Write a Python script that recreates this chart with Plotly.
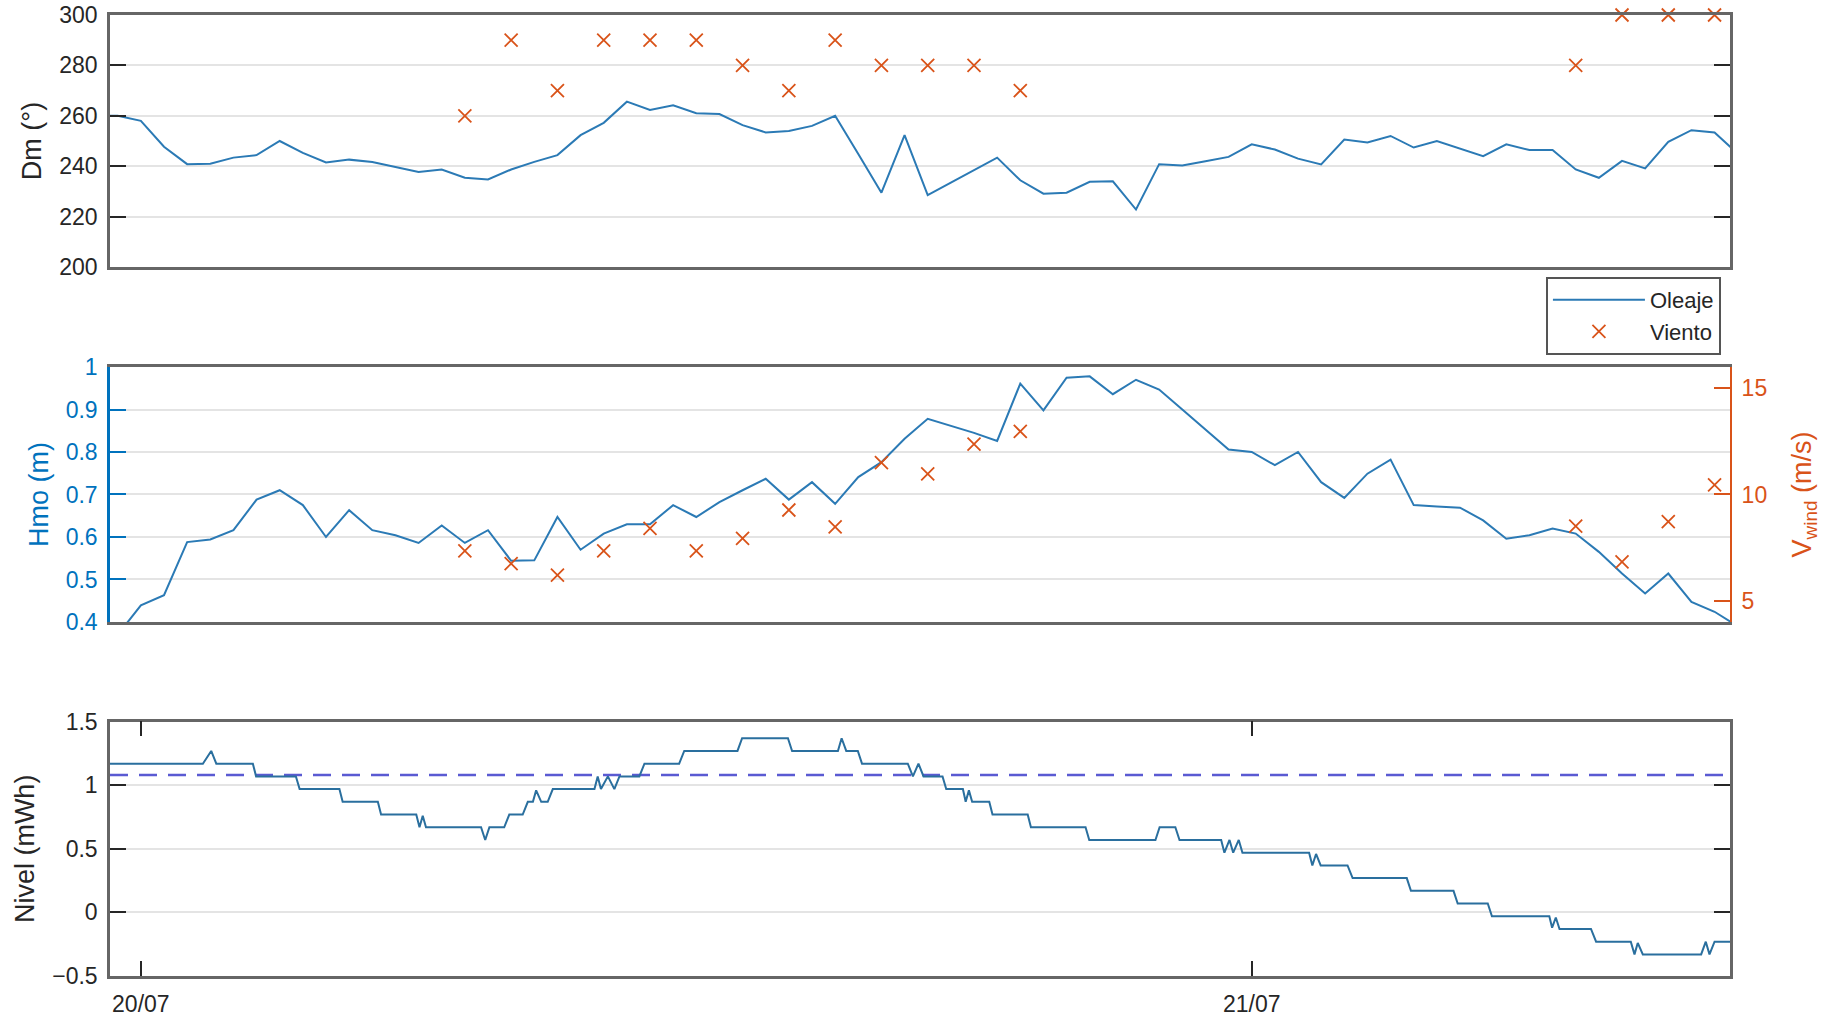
import pandas as pd
import plotly.graph_objects as go

# ---------------- data ----------------
base = pd.Timestamp("2018-07-20 00:00")

# wave record (half-hourly, starting 19/07 23:00)
wave_start = "2018-07-19 23:00"
dm_oleaje = [260, 260, 258, 247.7, 240.8, 241, 243.4, 244.4, 250, 245.3, 241.5, 242.6,
             241.7, 239.7, 237.7, 238.7, 235.4, 234.7, 238.7, 241.7, 244.4, 252.3, 257.2, 265.6,
             262.3, 264.2, 261, 260.7, 256.3, 253.4, 254, 256, 260, 244.8, 229.5, 252.3,
             228.5, 233.5, 238.5, 243.4, 234.4, 229.1, 229.5, 233.8, 234, 222.8, 240.8, 240.3,
             242, 243.7, 248.7, 246.6, 243, 240.7, 250.6, 249.4, 252, 247.4, 250, 247,
             244, 248.7, 246.4, 246.4, 238.7, 235.4, 242.1, 239.1, 249.7, 254.3, 253.4, 245]
hmo = [0.34, 0.37, 0.439, 0.463, 0.588, 0.594, 0.616, 0.688, 0.710, 0.675, 0.600, 0.663,
       0.616, 0.604, 0.586, 0.627, 0.586, 0.616, 0.544, 0.545, 0.647, 0.570, 0.608, 0.630,
       0.630, 0.675, 0.647, 0.682, 0.710, 0.737, 0.688, 0.729, 0.678, 0.741, 0.776, 0.831,
       0.878, 0.862, 0.845, 0.826, 0.961, 0.898, 0.975, 0.978, 0.936, 0.970, 0.947, 0.900,
       0.852, 0.806, 0.800, 0.769, 0.800, 0.729, 0.692, 0.749, 0.782, 0.675, 0.672, 0.669,
       0.639, 0.596, 0.604, 0.620, 0.608, 0.565, 0.514, 0.467, 0.514, 0.447, 0.424, 0.39]

# wind record (hours after 20/07 00:00)
wind_hours = [7, 8, 9, 10, 11, 12, 13, 14, 15, 16, 17, 18, 19, 31, 32, 33, 34]
wind_dir = [260, 290, 270, 290, 290, 290, 280, 270, 290, 280, 280, 280, 270, 280, 300, 300, 300]
wind_speed = [7.35, 6.75, 6.2, 7.35, 8.4, 7.35, 7.93, 9.27, 8.48, 11.5, 10.97, 12.37, 12.97,
              8.51, 6.83, 8.72, 10.45]

# sea level (hours after 20/07 00:00, value)
nivel_hours = [-0.8, 1.34, 1.52, 1.63, 2.42, 2.49, 3.35, 3.43, 4.29, 4.36, 5.12, 5.19, 5.95,
               6.02, 6.09, 6.16, 7.35, 7.44, 7.53, 7.85, 7.96, 8.25, 8.36, 8.47, 8.54, 8.65,
               8.79, 8.90, 9.80, 9.87, 9.94, 10.09, 10.23, 10.34, 10.77, 10.88, 11.63, 11.74,
               12.89, 12.99, 13.98, 14.07, 15.06, 15.14, 15.24, 15.49, 15.58, 16.57, 16.68,
               16.80, 16.91, 17.32, 17.40, 17.76, 17.82, 17.89, 17.96, 18.33, 18.40, 19.16,
               19.23, 20.41, 20.49, 21.92, 22.01, 22.35, 22.44, 23.34, 23.41, 23.52, 23.60,
               23.72, 23.80, 25.24, 25.31, 25.39, 25.49, 26.07, 26.18, 27.35, 27.44, 28.36,
               28.45, 29.10, 29.19, 30.43, 30.49, 30.57, 30.65, 31.33, 31.44, 32.19, 32.27,
               32.34, 32.45, 33.71, 33.81, 33.89, 34.00, 34.5]
nivel = [1.17, 1.17, 1.27, 1.17, 1.17, 1.07, 1.07, 0.97, 0.97, 0.87, 0.87, 0.77, 0.77,
         0.67, 0.76, 0.67, 0.67, 0.57, 0.67, 0.67, 0.77, 0.77, 0.87, 0.87, 0.96, 0.87,
         0.87, 0.97, 0.97, 1.07, 0.97, 1.07, 0.97, 1.07, 1.07, 1.17, 1.17, 1.27,
         1.27, 1.37, 1.37, 1.27, 1.27, 1.37, 1.27, 1.27, 1.17, 1.17, 1.07,
         1.17, 1.07, 1.07, 0.97, 0.97, 0.87, 0.96, 0.87, 0.87, 0.77, 0.77,
         0.67, 0.67, 0.57, 0.57, 0.67, 0.67, 0.57, 0.57, 0.47, 0.57, 0.47,
         0.57, 0.47, 0.47, 0.37, 0.46, 0.37, 0.37, 0.27, 0.27, 0.17, 0.17,
         0.07, 0.07, -0.03, -0.03, -0.12, -0.04, -0.13, -0.13, -0.23, -0.23, -0.33,
         -0.24, -0.33, -0.33, -0.23, -0.33, -0.23, -0.23]
nivel_ref = 1.08

x_range = ["2018-07-19 23:20", "2018-07-21 10:20"]
x_ticks = ["2018-07-20", "2018-07-21"]
x_ticktext = ["20/07", "21/07"]

# ---------------- figure ----------------
wave_time = pd.date_range(wave_start, periods=len(dm_oleaje), freq="30min")
wind_time = base + pd.to_timedelta(wind_hours, unit="h")
nivel_time = base + pd.to_timedelta(nivel_hours, unit="h")

BLUE = "#0072BD"
LINE = "#2b7ab5"
NIV = "#2a6f9e"
ORANGE = "#D95319"
FRAME = "#666666"
GRID = "#e4e4e4"
TXT = "#262626"
FONT = "Liberation Sans, Arial, sans-serif"

fig = go.Figure()
fig.add_trace(go.Scatter(x=wave_time, y=dm_oleaje, mode="lines", name="Oleaje",
                         line=dict(color=LINE, width=2), xaxis="x", yaxis="y"))
fig.add_trace(go.Scatter(x=wind_time, y=wind_dir, mode="markers", name="Viento",
                         marker=dict(symbol="x-thin", size=13, color=ORANGE,
                                     line=dict(width=1.8, color=ORANGE)),
                         cliponaxis=False, xaxis="x", yaxis="y"))
fig.add_trace(go.Scatter(x=wave_time, y=hmo, mode="lines", showlegend=False,
                         line=dict(color=LINE, width=2), xaxis="x2", yaxis="y2"))
fig.add_trace(go.Scatter(x=wind_time, y=wind_speed, mode="markers", showlegend=False,
                         marker=dict(symbol="x-thin", size=13, color=ORANGE,
                                     line=dict(width=1.8, color=ORANGE)),
                         cliponaxis=False, xaxis="x2", yaxis="y3"))
fig.add_trace(go.Scatter(x=[pd.Timestamp(x_range[0]), pd.Timestamp(x_range[1])],
                         y=[nivel_ref, nivel_ref], mode="lines", showlegend=False,
                         line=dict(color="#5a5ad2", width=2.5, dash="18px,11px"),
                         xaxis="x3", yaxis="y4"))
fig.add_trace(go.Scatter(x=nivel_time, y=nivel, mode="lines", showlegend=False,
                         line=dict(color=NIV, width=2), xaxis="x3", yaxis="y4"))

tickfont = dict(family=FONT, size=23, color=TXT)
titlefont = dict(family=FONT, size=27, color=TXT)

x_common = dict(range=x_range, type="date", showgrid=False, zeroline=False,
                showline=True, linecolor=FRAME, linewidth=2.5, automargin=False)

fig.update_layout(
    width=1824, height=1022,
    margin=dict(l=110, r=94, t=15, b=46),
    paper_bgcolor="white", plot_bgcolor="white",
    font=dict(family=FONT, color=TXT),
    xaxis=dict(**x_common, mirror=True, anchor="y", showticklabels=False, ticks=""),
    yaxis=dict(domain=[0.7378, 1.0], range=[200, 300], dtick=20, tickfont=tickfont,
               title=dict(text="Dm (°)", font=titlefont, standoff=10), automargin=False,
               ticklabelstandoff=5, ticklabeloverflow="allow",
               showgrid=True, gridcolor=GRID, gridwidth=1.5, zeroline=False,
               showline=True, linecolor=FRAME, linewidth=2.5, mirror="ticks",
               ticks="inside", ticklen=16, tickcolor=TXT, tickwidth=1.5, anchor="x"),
    xaxis2=dict(**x_common, mirror=True, anchor="y2", showticklabels=False, ticks=""),
    yaxis2=dict(domain=[0.3684, 0.6337], range=[0.4, 1.0], dtick=0.1, automargin=False,
                ticklabelstandoff=5, ticklabeloverflow="allow",
                tickfont=dict(family=FONT, size=23, color=BLUE),
                title=dict(text="Hmo (m)", font=dict(family=FONT, size=27, color=BLUE), standoff=10),
                showgrid=True, gridcolor=GRID, gridwidth=1.5, zeroline=False,
                showline=True, linecolor=BLUE, linewidth=2.5, mirror=False,
                ticks="inside", ticklen=16, tickcolor=BLUE, tickwidth=1.5, anchor="x2"),
    yaxis3=dict(overlaying="y2", side="right", anchor="x2", range=[4, 16], automargin=False,
                ticklabelstandoff=5, ticklabeloverflow="allow",
                tickvals=[5, 10, 15], tickfont=dict(family=FONT, size=23, color=ORANGE),
                title=dict(text="V<sub>wind</sub> (m/s)", font=dict(family=FONT, size=27, color=ORANGE),
                           standoff=26),
                showgrid=False, zeroline=False, showline=True, linecolor=ORANGE, linewidth=2,
                ticks="inside", ticklen=16, tickcolor=ORANGE, tickwidth=1.5),
    xaxis3=dict(**x_common, mirror="ticks", ticklabelstandoff=6, ticklabeloverflow="allow",
                anchor="y4", tickvals=x_ticks, ticktext=x_ticktext, tickfont=tickfont,
                ticks="inside", ticklen=15, tickcolor=TXT, tickwidth=1.5),
    yaxis4=dict(domain=[0.0, 0.2646], range=[-0.5, 1.5], dtick=0.5, tickfont=tickfont,
                title=dict(text="Nivel (mWh)", font=titlefont, standoff=10), automargin=False,
                ticklabelstandoff=5, ticklabeloverflow="allow",
                showgrid=True, gridcolor=GRID, gridwidth=1.5, zeroline=False,
                showline=True, linecolor=FRAME, linewidth=2.5, mirror="ticks",
                ticks="inside", ticklen=16, tickcolor=TXT, tickwidth=1.5, anchor="x3"),
    legend=dict(x=0.9944, xanchor="right", y=0.7274, yanchor="top",
                bgcolor="white", bordercolor="#555555", borderwidth=2, itemwidth=92,
                font=dict(family=FONT, size=22, color=TXT), tracegroupgap=0),
)

fig.write_html("out.html", config={"displayModeBar": False},
               post_script="document.body.style.margin='0';document.body.style.overflow='hidden';")
